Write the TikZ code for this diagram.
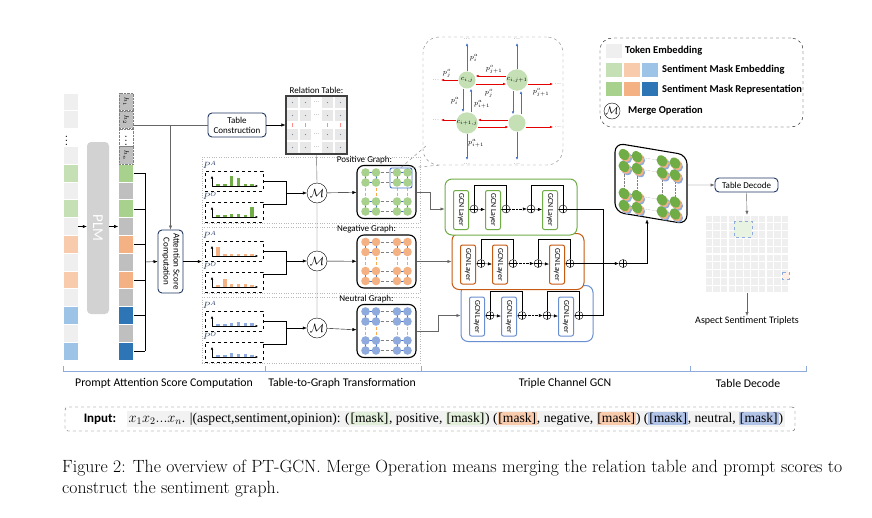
\documentclass[tikz,border=0pt]{standalone}
\usepackage{fontspec}
\usepackage{amsmath}
\newfontfamily\carl{Carlito}
\newfontfamily\tnr{Liberation Serif}
\usetikzlibrary{arrows.meta,positioning,calc}
\definecolor{tokgray}{HTML}{EFEFEF}
\definecolor{lgreen}{HTML}{C5E0B4}
\definecolor{lorange}{HTML}{F8CBAD}
\definecolor{lblue}{HTML}{9DC3E6}
\definecolor{dgreen}{HTML}{A9D18E}
\definecolor{dorange}{HTML}{F4B183}
\definecolor{dblue}{HTML}{2E75B6}
\definecolor{hgray}{HTML}{BFBFBF}
\definecolor{navy}{HTML}{203864}
\definecolor{bargreen}{HTML}{70AD47}
\definecolor{barblue}{HTML}{8FAADC}
\definecolor{edgeblue}{HTML}{4472C4}
\definecolor{chgreen}{HTML}{70AD47}
\definecolor{chorange}{HTML}{C55A11}
\definecolor{chblue}{HTML}{6A8FD0}
\definecolor{secblue}{HTML}{8FAADC}
\tikzset{
  >={Latex[length=4pt,width=3.2pt]},
  cell/.style={draw=white, line width=0.7pt, minimum width=15pt, minimum height=17.8pt, inner sep=0pt},
  rbox/.style={draw=navy, line width=0.9pt, rounded corners=4pt, fill=white, align=center, inner sep=1pt, font=\carl\fontsize{9}{10}\selectfont},
  merge/.style={circle, draw, fill=white, minimum size=20pt, inner sep=0pt, font=\fontsize{13}{13}\selectfont},
  plotbox/.style={draw, dashed, minimum width=58pt, minimum height=20pt, inner sep=0pt},
  panel/.style={draw=gray!55, dotted, minimum width=218pt, minimum height=66pt, inner sep=0pt},
  graphbox/.style={draw, line width=1.1pt, rounded corners=7pt, fill=white, minimum width=59pt, minimum height=53pt, inner sep=0pt},
  gcnlayer/.style={draw=#1, line width=1pt, rounded corners=2pt, fill=white, minimum width=15pt, minimum height=39pt, inner sep=0pt, font=\carl\fontsize{7.8}{8}\selectfont},
  oplus/.style={circle, draw, minimum size=8pt, inner sep=0pt, fill=white, path picture={\draw (path picture bounding box.north)--(path picture bounding box.south) (path picture bounding box.west)--(path picture bounding box.east);}},
  lab/.style={font=\carl\fontsize{9}{10}\selectfont, inner sep=0pt},
  sec/.style={font=\carl\fontsize{11.8}{13}\selectfont, inner sep=0pt},
  leg/.style={font=\carl\bfseries\fontsize{10.5}{12}\selectfont, inner sep=0pt, anchor=west},
  plab/.style={font=\fontsize{7}{7}\selectfont, inner sep=0pt},
  ra/.style={->, red!90!black, line width=0.6pt, >={Latex[length=3pt,width=2.6pt]}},
  ba/.style={->, edgeblue, line width=0.6pt, >={Latex[length=3pt,width=2.6pt]}},
  axis/.style={->, line width=0.6pt, >={Latex[length=2.5pt,width=2.5pt]}},
}
\newcommand\mk[1]{{\setlength{\fboxsep}{0.8pt}\colorbox{#1}{[mask]}}}
\begin{document}
\begin{tikzpicture}[x=1pt,y=-1pt]
\useasboundingbox (0,0) rectangle (872,517);
\fill[white] (0,0) rectangle (872,517);

% input tokens and PLM outputs
\foreach \c [count=\i from 0] in {tokgray,tokgray,white,tokgray,lgreen,tokgray,lgreen,tokgray,lorange,tokgray,lorange,tokgray,lblue,tokgray,lblue}
  \node[cell, fill=\c] (in\i) at (70.5,101.9+17.8*\i) {};
\foreach \c [count=\i from 0] in {hgray,hgray,white,hgray,dgreen,hgray,dgreen,hgray,dorange,hgray,dorange,hgray,dblue,hgray,dblue}
  \node[cell, fill=\c] (hc\i) at (126,101.9+17.8*\i) {};
\foreach \i in {0,...,3}
  \draw[gray, densely dotted] ([shift={(0.6pt,0.6pt)}]hc\i.south west) rectangle ([shift={(-0.6pt,-0.6pt)}]hc\i.north east);
\node[rotate=-90, font=\fontsize{7}{7}\selectfont] at (hc0) {$h_1$};
\node[rotate=-90, font=\fontsize{7}{7}\selectfont] at (hc1) {$h_2$};
\node[rotate=-90, font=\fontsize{7}{7}\selectfont] at (hc3) {$h_n$};
\node[font=\bfseries\fontsize{8}{8}\selectfont, inner sep=0pt] at ([xshift=-4pt]in2) {$\vdots$};
\node[font=\bfseries\fontsize{8}{8}\selectfont, inner sep=0pt] at (hc2) {$\vdots$};

\node[fill=gray!35, rounded corners=4pt, minimum width=22pt, minimum height=172pt, text=white, font=\carl\fontsize{15}{15}\selectfont, inner sep=0pt] (plm) at (98,228) {\rotatebox{-90}{PLM}};
\draw[->] (in7.east) -- (plm.west |- in7.east);
\draw[->] (plm.east |- hc7.west) -- (hc7.west);

% attention score computation
\node[rbox, minimum width=25pt, minimum height=63pt] (att) at (170.5,261.5) {\rotatebox{-90}{\begin{tabular}{@{}c@{}}Attention Score\\Computation\end{tabular}}};
\coordinate (br) at (145,262);
\foreach \i in {4,6,8,10,12,14}
  \draw (hc\i.east) -- (hc\i.east -| br);
\draw (br |- hc4.east) -- (br |- hc14.east);
\draw[->] (br) -- (att.west);

% relation table
\node[rbox, minimum width=58pt, minimum height=24pt] (tc) at (237,125) {Table\\Construction};
\draw[gray!80!black] ([yshift=-5.3pt]hc1.east) -- (tc.west);
\draw[->, gray!80!black] (att.north |- tc.west) -- (att.north);
\foreach \x/\w in {286/13,299/13,321/13,334/13}
  \foreach \y/\h in {96/13,109/13,128/13,141/13}{
    \fill[gray!18] (\x+0.8,\y+0.8) rectangle (\x+\w-0.8,\y+\h-0.8);
    \fill[navy!60] (\x+\w/2,\y+\h/2) circle (0.7);
  }
\foreach \y in {102.5,115.5,134.5,147.5}
  \node[font=\fontsize{5}{5}\selectfont, inner sep=0pt] at (316.5,\y) {...};
\foreach \x in {292.5,305.5,327.5,340.5}
  \draw[red!45, line width=0.5pt] (\x,122.8) -- (\x,127.2);
\node[draw=black!75, line width=1.1pt, minimum width=61pt, minimum height=58pt, inner sep=0pt] (reltab) at (316.5,125) {};
\node[lab, anchor=south] at ([yshift=1.5pt]reltab.north) {Relation Table:};
\draw[->] (tc.east) -- (reltab.west);

% table-to-graph panels
\foreach \k/\t in {1/190,2/260,3/330.5}
  \node[panel] (pan\k) at (311,\t) {};
\draw[->] (att.east) -- (pan2.west |- att.east);

\node[merge] (m1) at (317,193) {$\mathcal{M}$};
\node[merge] (m2) at (317,261) {$\mathcal{M}$};
\node[merge] (m3) at (317,328) {$\mathcal{M}$};
\draw[gray!80!black] (reltab.south) -- (m1.north) (m1.south) -- (m2.north) (m2.south) -- (m3.north);

\foreach \k/\tp/\col/\ha/\ho in {1/157/bargreen/{2,2,10,8,2,2}/{2,2,3,3,2,10},
    2/227/dorange/{9,2,2,2,2,2}/{2,8,3,3,3,2},
    3/297/barblue/{2,2,3,4,3,3}/{2,2,4,3,3,2}}{
  \node[plotbox] (pa\k) at (234,\tp+24) {};
  \node[plotbox] (po\k) at (234,\tp+55) {};
  \node[anchor=west, inner sep=0pt, text=navy, font=\fontsize{9}{9}\selectfont] at (203,\tp+8) {$P^{A}$};
  \node[anchor=west, inner sep=0pt, text=navy, font=\fontsize{9}{9}\selectfont] at (203,\tp+39) {$P^{O}$};
  \foreach \h [count=\n] in \ha
    \fill[\col] (209.5+6.8*\n,\tp+29) rectangle ++(3.5,-\h);
  \foreach \h [count=\n] in \ho
    \fill[\col] (209.5+6.8*\n,\tp+60) rectangle ++(3.5,-\h);
  \draw[axis] (212,\tp+29) -- (212,\tp+19);
  \draw[axis] (212,\tp+29) -- (258,\tp+29);
  \draw[axis] (212,\tp+60) -- (212,\tp+50);
  \draw[axis] (212,\tp+60) -- (258,\tp+60);
  \draw (pa\k.east) -| ([xshift=-21pt]m\k.west);
  \draw ([yshift=8pt]po\k.east) -| ([xshift=-21pt]m\k.west);
  \draw[->] ([xshift=-21pt]m\k.west) -- (m\k.west);
}

% sentiment graphs
\node[graphbox] (gr1) at (386.5,192) {};
\node[graphbox] (gr2) at (386.5,261.5) {};
\node[graphbox] (gr3) at (386.5,331) {};
\node[lab, anchor=south] at ([xshift=-22pt,yshift=1pt]gr1.north) {Positive Graph:};
\node[lab, anchor=south] at ([xshift=-20pt,yshift=1pt]gr2.north) {Negative Graph:};
\node[lab, anchor=south] at ([xshift=-20pt,yshift=1pt]gr3.north) {Neutral Graph:};
\foreach \k/\fc in {1/dgreen,2/dorange,3/barblue}{
  \draw[->] (m\k) -- (gr\k);
  \begin{scope}[shift={(gr\k)}]
    \foreach \p in {-19.5,-9.5,9.5,19.5}{
      \draw[edgeblue, line width=0.7pt] (-21,\p) -- (-10.5,\p) (10.5,\p) -- (21,\p);
      \draw[gray, densely dashed, line width=0.5pt] (-10.5,\p) -- (10.5,\p);
    }
    \foreach \p in {-21,-10.5,10.5,21}{
      \draw[edgeblue, line width=0.7pt] (\p,-19.5) -- (\p,-9.5) (\p,9.5) -- (\p,19.5);
      \draw[orange!70, densely dashed, line width=0.5pt] (\p,-9.5) -- (\p,9.5);
    }
    \foreach \x in {-21,-10.5,10.5,21}
      \foreach \y in {-19.5,-9.5,9.5,19.5}
        \fill[\fc] (\x,\y) circle (4.3);
  \end{scope}
}
\node[draw=edgeblue, line width=0.9pt, rounded corners=2pt, minimum width=22pt, minimum height=20pt, inner sep=0pt] (hl) at (401,178) {};

% zoomed view
\node[draw=gray, dashed, rounded corners=16pt, minimum width=140pt, minimum height=128pt, inner sep=0pt] (bubble) at (493,101) {};
\draw[gray, dashed] (hl.north) -- ([xshift=4pt,yshift=20pt]bubble.south west);
\draw[gray, dashed] (hl.north east) -- ([xshift=16pt]bubble.south west);
\node[circle, fill=lgreen, minimum size=17pt, inner sep=0pt, plab] (c11) at (467,80) {$c_{i,j}$};
\node[circle, fill=lgreen, minimum size=17pt, inner sep=0pt, plab] (c12) at (517,80) {$c_{i,j+1}$};
\node[circle, fill=lgreen, minimum size=17pt, inner sep=0pt, plab] (c21) at (467,123) {$c_{i+1,j}$};
\node[circle, fill=lgreen, minimum size=17pt, inner sep=0pt] (c22) at (517,123) {};
\draw[ra] (c11.west) -- (441,80);
\draw[ra] ([yshift=-4pt]c11.east) -- ([yshift=-4pt]c12.west);
\draw[ra] ([yshift=4pt]c12.west) -- ([yshift=4pt]c11.east);
\draw[ra] ([yshift=-4pt]c12.east) -- (553,84);
\draw[ra] ([yshift=3pt]c21.west) -- (441,120);
\draw[ra] ([yshift=3pt]c22.west) -- ([yshift=3pt]c21.east);
\draw[ra] ([yshift=-4pt]c21.east) -- ([yshift=-4pt]c22.west);
\draw[ra] ([yshift=-4pt]c22.east) -- (553,127);
\draw[ba] (c11.north) -- (467,43);
\draw[ba] ([xshift=-4pt]c11.south) -- ([xshift=-4pt]c21.north);
\draw[ba] ([xshift=4pt]c21.north) -- ([xshift=4pt]c11.south);
\draw[ba] (c21.south) -- (467,160);
\draw[ba] (c12.north) -- (517,43);
\draw[ba] ([xshift=-4pt]c12.south) -- ([xshift=-4pt]c22.north);
\draw[ba] ([xshift=4pt]c22.north) -- ([xshift=4pt]c12.south);
\draw[ba] (c22.south) -- (517,160);
\foreach \x/\y in {436/80,436/120,558/84,558/127,467/39,517/39,467/164,517/164}
  \node[font=\fontsize{5}{5}\selectfont, inner sep=0pt] at (\x,\y) {...};
\node[plab] at (447,73) {$p_j^o$};
\node[plab] at (494,69) {$p_{j+1}^o$};
\node[plab] at (489,93) {$p_j^o$};
\node[plab] at (541,92) {$p_{j+1}^o$};
\node[plab] at (474,58) {$p_i^a$};
\node[plab] at (455,101) {$p_i^a$};
\node[plab] at (482,104) {$p_{i+1}^a$};
\node[plab] at (476,143) {$p_{i+1}^a$};

% legend
\node[draw, dashed, rounded corners=12pt, minimum width=203pt, minimum height=89pt, inner sep=0pt] (legend) at (701.5,82.5) {};
\node[cell, fill=tokgray, minimum width=17pt, minimum height=15pt] (lt) at (613.5,50.5) {};
\node[leg] at (625,51) {Token Embedding};
\foreach \c [count=\i from 0] in {lgreen,lorange,lblue}
  \node[cell, fill=\c, minimum width=17pt, minimum height=15pt] (le\i) at (613.5+18*\i,69.5) {};
\node[leg] at (662,70) {Sentiment Mask Embedding};
\foreach \c [count=\i from 0] in {dgreen,dorange,dblue}
  \node[cell, fill=\c, minimum width=17pt, minimum height=15pt] (lr\i) at (613.5+18*\i,89) {};
\node[leg] at (662,90) {Sentiment Mask Representation};
\node[merge, minimum size=16pt, font=\fontsize{11}{11}\selectfont] (lm) at (612,111) {$\mathcal{M}$};
\node[leg] at (628,111) {Merge Operation};

% triple channel GCN
\foreach \ch/\bx/\cy/\col in {b/461/313.5/chblue, o/452/261.5/chorange, g/445/207/chgreen}{
  \node[draw=\col, line width=1pt, rounded corners=7pt, fill=white, minimum width=132pt, minimum height=56pt, inner sep=0pt] (ch\ch) at (\bx+66,\cy) {};
  \node[gcnlayer=\col] (l1\ch) at (\bx+16,\cy+3) {\rotatebox{-90}{GCN Layer}};
  \node[gcnlayer=\col] (l2\ch) at (\bx+48,\cy+3) {\rotatebox{-90}{GCN Layer}};
  \node[gcnlayer=\col] (l3\ch) at (\bx+105,\cy+3) {\rotatebox{-90}{GCN Layer}};
  \node[oplus] (a1\ch) at (\bx+29,\cy+2) {};
  \node[oplus] (a2\ch) at (\bx+61,\cy+2) {};
  \node[oplus] (a3\ch) at (\bx+86,\cy+2) {};
  \node[oplus] (a4\ch) at (\bx+118,\cy+2) {};
  \draw (l1\ch) -- (a1\ch);
  \draw[->] (a1\ch) -- (l2\ch);
  \draw (l2\ch) -- (a2\ch);
  \draw[densely dotted, ->] (a2\ch) -- (a3\ch);
  \draw[->] (a3\ch) -- (l3\ch);
  \draw (l3\ch) -- (a4\ch);
  \draw (a1\ch.north) -- (\bx+29,\cy-22) -| (a2\ch.north);
  \draw (a3\ch.north) -- (\bx+86,\cy-22) -| (a4\ch.north);
}
\draw[->, gray!80!black] (gr1.east) -- ++(14,0) |- (chg.west |- a1g);
\draw[->, gray!80!black] (gr2.east) -- (cho.west |- gr2.east);
\draw[->, gray!80!black] (gr3.east) -- ++(22,0) |- (chb.west |- a1b);
\node[oplus] (fin) at (623,263.5) {};
\coordinate (bus) at (603,263.5);
\draw (a4g.east) -| (bus);
\draw (a4b.east) -| (bus);
\draw[->] (a4o.east) -- (fin.west);

% fused sentiment graph
\begin{scope}[shift={(615,143)}, yslant=-0.167]
  \draw[line width=1.1pt, rounded corners=9pt, fill=white] (0,35) -- (0,0) -- (72,0) -- (72,69) -- (0,69) -- cycle;
  \foreach \p in {10,22,49,61}{
    \draw[edgeblue, line width=0.6pt] (9,\p) -- (22,\p) (47,\p) -- (60,\p);
    \draw[gray, densely dotted] (22,\p) -- (47,\p);
  }
  \foreach \p in {9,22,47,60}{
    \draw[edgeblue, line width=0.6pt] (\p,10) -- (\p,22) (\p,49) -- (\p,61);
    \draw[gray, densely dotted] (\p,22) -- (\p,49);
  }
  \foreach \x in {9,22,47,60}
    \foreach \y in {10,22,49,61}{
      \fill[barblue] (\x+2.6,\y+2.6) circle (5.5);
      \fill[dorange] (\x+1.4,\y+1.4) circle (5.5);
      \fill[bargreen] (\x,\y) circle (5.5);
    }
  \coordinate (sgbot) at (32,71);
  \coordinate (sgright) at (72,30);
\end{scope}
\draw[->] (fin.east) -| (sgbot);

% table decode
\node[rbox, minimum width=63pt, minimum height=14pt] (td) at (746.5,185) {Table Decode};
\draw[->, gray!80!black] (sgright) -- (td.west);
\node[minimum width=84pt, minimum height=78pt, inner sep=0pt] (dgrid) at (747,254) {};
\foreach \i in {0,...,10}
  \foreach \j in {0,...,9}
    \fill[tokgray] (705.6+7.64*\i,215.6+7.8*\j) rectangle ++(6.4,6.6);
\draw[barblue, dashed, fill=lgreen!40, line width=0.8pt] (734,221) rectangle (752,237);
\draw[barblue, dashed, fill=lorange!30, line width=0.7pt] (782,272) rectangle (789,279);
\node[lab, font=\carl\fontsize{10}{11}\selectfont, anchor=north] (trip) at (747,316) {Aspect Sentiment Triplets};
\draw[->, gray!80!black] (td.south) -- (dgrid.north);
\draw[->, gray!80!black] (dgrid.south) -- (trip.north);

% stage labels
\draw[secblue] (63,366) -- (63,371) -- (806,371) -- (806,366);
\foreach \x in {265,421,690}
  \draw[secblue] (\x,366) -- (\x,371);
\node[sec] at (164,383) {Prompt Attention Score Computation};
\node[sec] at (342,383) {Table-to-Graph Transformation};
\node[sec] at (565,383) {Triple Channel GCN};
\node[sec] at (748,383) {Table Decode};

% prompt
\node[draw=gray!60!black, dashed, rounded corners=3pt, minimum width=730pt, minimum height=24pt, inner sep=0pt] (inbox) at (430,419) {};
\node[font=\carl\bfseries\fontsize{13}{14}\selectfont, inner sep=0pt] (inlab) at (100,419) {Input:};
\node[fill=gray!10, anchor=west, inner sep=1.5pt, font=\tnr\fontsize{13.6}{15}\selectfont] (intext) at (127,419) {$x_1x_2...x_n$. |(aspect,sentiment,opinion): (\mk{lgreen!50}, positive, \mk{lgreen!50}) (\mk{lorange}, negative, \mk{lorange}) (\mk{barblue!70}, neutral, \mk{barblue!70})};

% caption
\node[anchor=north west, align=left, inner sep=0pt, font=\fontsize{17.7}{21}\selectfont] (cap) at (62,460) {Figure 2: The overview of PT-GCN. Merge Operation means merging the relation table and prompt scores to\\construct the sentiment graph.};
\end{tikzpicture}
\end{document}
